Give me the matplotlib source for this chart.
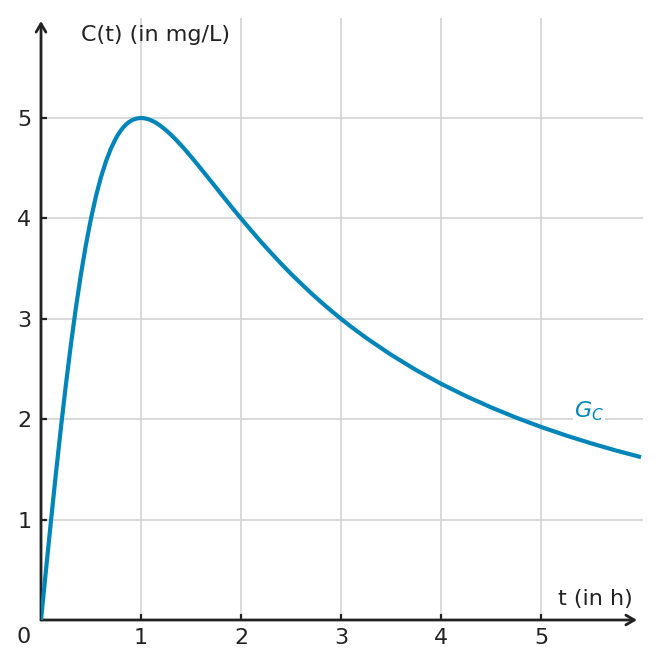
import matplotlib
matplotlib.use("Agg")
import matplotlib.pyplot as plt

# Concentration curve values
t_vals = [0.0, 0.05, 0.1, 0.15, 0.2, 0.25, 0.3, 0.35, 0.4, 0.45, 0.5, 0.55, 0.6, 0.65,
          0.7, 0.75, 0.775, 0.8, 0.825, 0.85, 0.875, 0.9, 0.925, 0.95, 0.975, 1.0,
          1.025, 1.05, 1.075, 1.1, 1.125, 1.15, 1.175, 1.2, 1.25, 1.3, 1.35, 1.4,
          1.45, 1.5, 1.55, 1.6, 1.65, 1.7, 1.75, 1.8, 1.85, 1.9, 1.95,
          2.0, 2.1, 2.2, 2.3, 2.4, 2.5, 2.6, 2.7, 2.8, 2.9, 3.0, 3.1, 3.25, 3.5,
          3.75, 4.0, 4.25, 4.5, 4.75, 5.0, 5.25, 5.5, 5.75, 6.0]
c_vals = [0.0, 0.499, 0.990, 1.467, 1.923, 2.353, 2.752, 3.118, 3.448, 3.742, 4.000,
          4.223, 4.412, 4.569, 4.698, 4.800, 4.842, 4.878, 4.909, 4.935, 4.956, 4.972,
          4.985, 4.993, 4.998, 5.000, 4.998, 4.994, 4.987, 4.977, 4.966, 4.952, 4.936,
          4.918, 4.878, 4.833, 4.783, 4.730, 4.674, 4.615, 4.555, 4.494, 4.432, 4.370,
          4.308, 4.245, 4.183, 4.121, 4.060,
          4.000, 3.882, 3.767, 3.657, 3.550, 3.448, 3.351, 3.257, 3.167, 3.082, 3.000,
          2.922, 2.811, 2.642, 2.490, 2.353, 2.230, 2.118, 2.016, 1.923, 1.838, 1.760,
          1.688, 1.622]

x_ticks = [1, 2, 3, 4, 5]
y_ticks = [1, 2, 3, 4, 5]
x_label = "t (in h)"
y_label = "C(t) (in mg/L)"
curve_label = r"$G_C$"

blue = "#0085b8"
dark = "#222222"
grid_c = "#d3d3d3"
fs = 16

W, H = 661, 668
fig = plt.figure(figsize=(W / 100, H / 100), dpi=100)
left, right, bottom, top = 41, 643, 620, 18
ax = fig.add_axes([left / W, 1 - bottom / H, (right - left) / W, (bottom - top) / H])
xmax = (right - left) / 100.0
ymax = (bottom - top) / 100.4
ax.set_xlim(0, xmax)
ax.set_ylim(0, ymax)

for s in ax.spines.values():
    s.set_visible(False)

ax.set_xticks(x_ticks)
ax.set_yticks(y_ticks)
ax.set_xticklabels([str(v) for v in x_ticks])
ax.set_yticklabels([str(v) for v in y_ticks])
ax.tick_params(direction="in", length=4, width=1.6, color=dark, labelcolor=dark,
               labelsize=fs)
ax.tick_params(axis="x", pad=6)
ax.tick_params(axis="y", pad=7)
ax.grid(True, color=grid_c, linewidth=1.2)
ax.set_axisbelow(True)

# axes with arrows
ax.annotate("", xy=(0.99, 0), xytext=(0, 0), xycoords="axes fraction",
            arrowprops=dict(arrowstyle="->,head_length=0.6,head_width=0.35",
                            color=dark, lw=2.0, shrinkA=0, shrinkB=0))
ax.annotate("", xy=(0, 0.995), xytext=(0, 0), xycoords="axes fraction",
            arrowprops=dict(arrowstyle="->,head_length=0.6,head_width=0.35",
                            color=dark, lw=2.0, shrinkA=0, shrinkB=0))

ax.plot(t_vals, c_vals, color=blue, linewidth=3.0, clip_on=True, zorder=3,
        solid_capstyle="butt", solid_joinstyle="round")

ax.text(-0.17, -0.17, "0", ha="center", va="center", fontsize=fs, color=dark)
ax.text(0.4, 5.83, y_label, ha="left", va="center", fontsize=fs, color=dark)
ax.text(5.92, 0.21, x_label, ha="right", va="center", fontsize=fs, color=dark)
ax.text(5.48, 2.08, curve_label, ha="center", va="center", fontsize=fs, color=blue,
        bbox=dict(facecolor="white", edgecolor="none", pad=0.5), zorder=4)

fig.savefig("out.png", dpi=100)
